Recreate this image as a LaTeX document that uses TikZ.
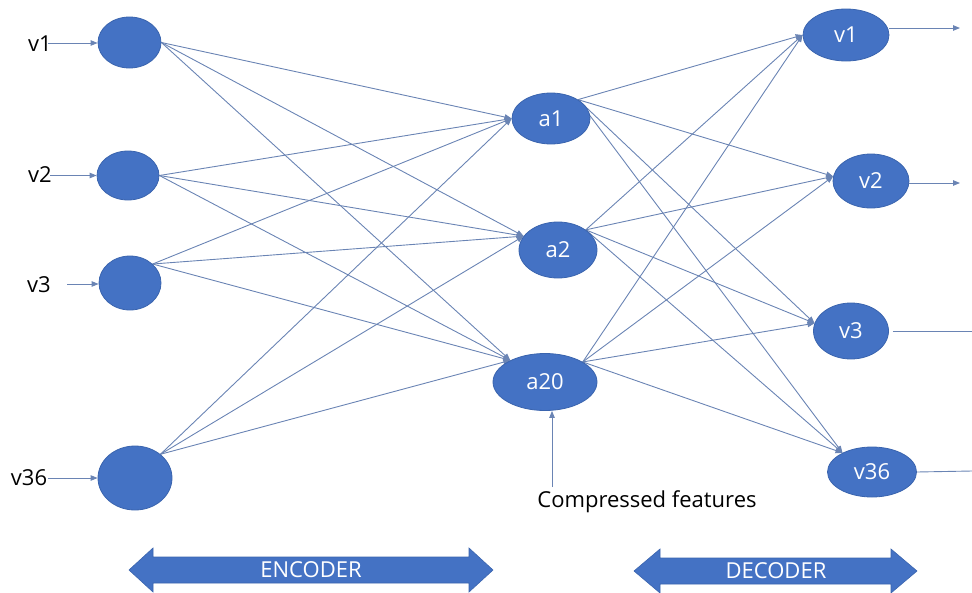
\documentclass[tikz,border=0pt]{standalone}
\usepackage{fontspec}
\setmainfont{Open Sans}
\usetikzlibrary{arrows.meta,backgrounds,shapes.geometric}
\definecolor{nodeblue}{HTML}{4472C4}
\definecolor{nodeedge}{HTML}{3A64AE}
\definecolor{linkblue}{HTML}{6A84B4}
\begin{document}
\begin{tikzpicture}[x=1pt,y=-1pt,
  neuron/.style={ellipse,fill=nodeblue,draw=nodeedge,line width=0.8pt,inner sep=0pt,text=white,font=\fontsize{22}{26}\selectfont},
  link/.style={draw=linkblue,line width=0.9pt,-{Triangle[length=7pt,width=5.5pt]}},
  plainlink/.style={draw=linkblue,line width=0.9pt},
  lbl/.style={font=\fontsize{22}{26}\selectfont,text=black,inner sep=0pt},
  band/.style={fill=nodeblue,draw=nodeedge,line width=0.6pt},
  bandtext/.style={text=white,inner sep=0pt,font=\fontsize{22}{26}\selectfont}]
\useasboundingbox (0,0) rectangle (972,592);
% input layer
\node[neuron,minimum width=63pt,minimum height=51pt] (i1) at (129.5,42.5) {};
\node[neuron,minimum width=62pt,minimum height=49pt] (i2) at (128,175.5) {};
\node[neuron,minimum width=62pt,minimum height=54pt] (i3) at (130,283) {};
\node[neuron,minimum width=74pt,minimum height=64pt] (i4) at (135,478) {};
% hidden layer
\node[neuron,minimum width=78pt,minimum height=51pt] (a1) at (551,118.5) {a1};
\node[neuron,minimum width=78pt,minimum height=56pt] (a2) at (558,250) {a2};
\node[neuron,minimum width=104pt,minimum height=57pt] (a20) at (545,382) {a20};
% output layer
\node[neuron,minimum width=86pt,minimum height=52pt] (o1) at (846,35) {v1};
\node[neuron,minimum width=76pt,minimum height=54pt] (o2) at (871,181) {v2};
\node[neuron,minimum width=75pt,minimum height=56pt] (o3) at (851,331) {v3};
\node[neuron,minimum width=89pt,minimum height=50pt] (o4) at (872,472) {v36};
% input labels
\node[lbl] (l1) at (40,44) {v1};
\node[lbl] (l2) at (40,175) {v2};
\node[lbl] (l3) at (39,285) {v3};
\node[lbl] (l4) at (29,478) {v36};
\coordinate (s1) at (48,43);
\coordinate (s2) at (50,175.5);
\coordinate (s3) at (67,284);
\coordinate (s4) at (48,478);
\draw[link] (s1) -- (i1.west |- s1);
\draw[link] (s2) -- (i2.west |- s2);
\draw[link] (s3) -- (i3.west |- s3);
\draw[link] (s4) -- (i4.west |- s4);
% outputs
\coordinate (e1) at (960,28);
\coordinate (e2) at (960,183);
\coordinate (e3) at (972,331);
\coordinate (e4) at (972,471);
\draw[link] (o1.east |- e1) -- (e1);
\draw[link] (o2.east |- e2) -- (e2);
\draw[plainlink] ([xshift=4pt]o3.east) -- (e3);
\draw[plainlink] (o4.east) -- (e4);
% compressed features
\node[lbl] (cf) at (647,502) {Compressed features};
\coordinate (cfs) at (552,487);
\draw[link] (cfs) -- (cfs |- a20.south);
% connections
\begin{scope}[on background layer]
\foreach \s/\sa in {i1/0,i2/0,i3/40,i4/43}{
  \draw[link] (\s.\sa) -- (a1.180);
  \draw[link] (\s.\sa) -- (a2.158);
  \draw[link] (\s.\sa) -- (a20.148);
}
\foreach \s/\sa in {a1/35,a2/36,a20/28}{
  \draw[link] (\s.\sa) -- (o1.180);
  \draw[link] (\s.\sa) -- (o2.173);
  \draw[link] (\s.\sa) -- (o3.168);
  \draw[link] (\s.\sa) -- (o4.147);
}
\end{scope}
% bands
\draw[band] (129,570) -- (153,548) -- (153,557) -- (469,557) -- (469,548) -- (493,570) -- (469,592) -- (469,583) -- (153,583) -- (153,592) -- cycle;
\node[bandtext] (enc) at (311,570) {ENCODER};
\draw[band] (634,571) -- (660,549) -- (660,558) -- (891,558) -- (891,549) -- (917,571) -- (891,593) -- (891,584) -- (660,584) -- (660,593) -- cycle;
\node[bandtext] (dec) at (776,571) {DECODER};
\end{tikzpicture}
\end{document}
